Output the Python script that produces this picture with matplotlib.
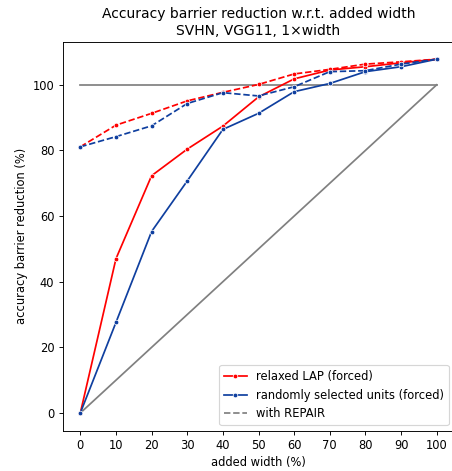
import matplotlib
matplotlib.use("Agg")
import matplotlib.pyplot as plt

width = [0, 10, 20, 30, 40, 50, 60, 70, 80, 90, 100]
lap_forced = [0, 47.0, 72.3, 80.4, 87.4, 96.3, 101.8, 104.5, 105.5, 106.7, 107.8]
rand_forced = [0, 27.6, 55.3, 70.7, 86.4, 91.3, 97.9, 100.4, 104.0, 105.5, 107.8]
lap_repair = [81.1, 87.7, 91.3, 95.1, 97.7, 100.1, 103.3, 104.7, 106.3, 107.0, 107.8]
rand_repair = [81.1, 84.2, 87.5, 94.3, 97.6, 96.6, 99.4, 104.0, 104.3, 106.3, 107.8]
ref_x = [0, 100]
ref_flat = [100, 100]
ref_diag = [0, 100]

RED = "#ff0000"
BLUE = "#0f3f9f"

dpi = 83
fig = plt.figure(figsize=(452 / dpi, 471 / dpi), dpi=dpi)
ax = fig.add_axes([62.5 / 452, 40.3 / 471, (454.5 - 62.5) / 452, (430.7 - 41.5) / 471])

ax.plot(ref_x, ref_flat, color="gray", lw=1.5)
ax.plot(ref_x, ref_diag, color="gray", lw=1.5)

mk = dict(marker="o", markersize=4, markeredgecolor="white", markeredgewidth=0.6)
ax.plot(width, lap_forced, color=RED, lw=1.5, label="relaxed LAP (forced)", **mk)
ax.plot(width, rand_forced, color=BLUE, lw=1.5, label="randomly selected units (forced)", **mk)
ax.plot(width, lap_repair, color=RED, lw=1.5, ls="--", **mk)
ax.plot(width, rand_repair, color=BLUE, lw=1.5, ls="--", **mk)
ax.plot([], [], color="gray", lw=1.5, ls="--", label="with REPAIR")

ax.set_xticks(width)
ax.set_yticks([0, 20, 40, 60, 80, 100])
ax.set_xlabel("added width (%)")
ax.set_ylabel("accuracy barrier reduction (%)")
ax.set_title("Accuracy barrier reduction w.r.t. added width\nSVHN, VGG11, 1×width")
ax.legend(loc="lower right")

fig.savefig("out.png", dpi=dpi)
